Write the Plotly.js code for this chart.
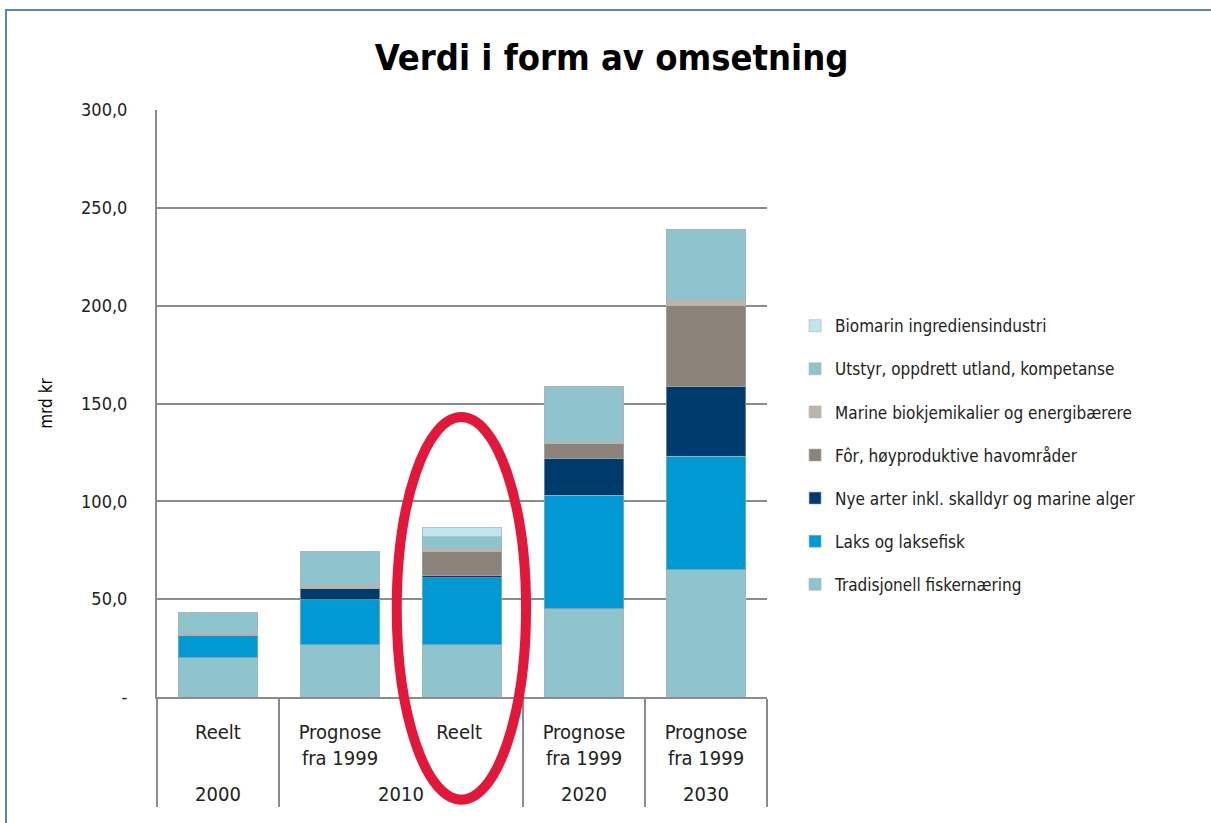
<!DOCTYPE html>
<html>
<head>
<meta charset="utf-8">
<script src="https://cdn.plot.ly/plotly-3.0.1.min.js"></script>
<style>
  html, body { margin: 0; padding: 0; overflow: hidden; background: #fff; }
  #chart { width: 1211px; height: 823px; position: absolute; left: 0; top: 0; }
  #frame { position: absolute; left: 5px; top: 9px; width: 1400px; height: 1000px;
           border-left: 2px solid #5b85b8; border-top: 2px solid #5b85b8; pointer-events: none; }
</style>
</head>
<body>
<div id="chart"></div>
<div id="frame"></div>
<script>
// ---- data ----
const years = ["2000", "2010", "2010", "2020", "2030"];
// the trailing space keeps the second "Reelt" distinct so Plotly keeps the given order
const kinds = ["Reelt", "Prognose<br>fra 1999", "Reelt ", "Prognose<br>fra 1999", "Prognose<br>fra 1999"];

const seriesNames = [
  "Tradisjonell fiskernæring",
  "Laks og laksefisk",
  "Nye arter inkl. skalldyr og marine alger",
  "Fôr, høyproduktive havområder",
  "Marine biokjemikalier og energibærere",
  "Utstyr, oppdrett utland, kompetanse",
  "Biomarin ingrediensindustri"
];
const tradisjonell = [20.0, 26.6, 26.6, 45.0, 65.0];
const laks         = [11.5, 23.1, 34.4, 58.0, 58.0];
const nyeArter     = [0.0, 5.5, 1.0, 19.0, 35.5];
const forHav       = [0.0, 0.5, 12.2, 7.5, 41.5];
const marineBio    = [1.0, 1.5, 1.7, 1.0, 3.0];
const utstyr       = [10.5, 17.0, 5.9, 28.0, 36.0];
const biomarin     = [0.0, 0.0, 4.9, 0.0, 0.0];

const yTickVals = [0, 50, 100, 150, 200, 250, 300];
const yTickText = ["-", "50,0", "100,0", "150,0", "200,0", "250,0", "300,0"];

const colors = ["#8fc3ce", "#0099d3", "#003b6d", "#8b8379", "#bdb5ac", "#8fc3ce", "#bfe6ef"];

const seriesValues = [tradisjonell, laks, nyeArter, forHav, marineBio, utstyr, biomarin];

const FONT = "'DejaVu Sans Condensed', 'Liberation Sans Narrow', Roboto, sans-serif";

// outer (year) labels get a blank first line so they sit lower, as in the reference
const outerLabels = years.map(y => "&nbsp;<br>" + y);

const traces = seriesValues.map((vals, i) => ({
  type: "bar",
  name: seriesNames[i],
  x: [outerLabels, kinds],
  y: vals,
  legendgroup: "g" + i,
  legendrank: 100 - i,
  marker: { color: colors[i], line: { color: "#a9b3b6", width: 0.6 } },
  hoverinfo: "name+y"
}));

const layout = {
  width: 1211,
  height: 823,
  paper_bgcolor: "#ffffff",
  plot_bgcolor: "#ffffff",
  margin: { l: 157, r: 444, t: 110, b: 126 },
  barmode: "stack",
  bargap: 0.35,
  font: { family: FONT, color: "#222", size: 16 },
  title: {
    text: "<b>Verdi i form av omsetning</b>",
    font: { family: FONT, size: 36, color: "#000" },
    x: 0.505, xanchor: "center",
    y: 0.93, yanchor: "middle"
  },
  xaxis: {
    type: "multicategory",
    showline: true, linecolor: "#8c8c8c", linewidth: 2,
    showdividers: true, dividercolor: "#8c8c8c", dividerwidth: 2,
    tickfont: { family: FONT, size: 20, color: "#222" },
    ticklabelstandoff: 16,
    ticks: "", showgrid: false
  },
  yaxis: {
    range: [0, 300],
    tickvals: yTickVals, ticktext: yTickText,
    showgrid: true, gridcolor: "#8c8c8c", gridwidth: 2,
    showline: true, linecolor: "#8c8c8c", linewidth: 2,
    zeroline: false,
    ticks: "", ticklen: 0,
    ticklabelstandoff: 24,
    tickfont: { family: FONT, size: 18, color: "#222" },
    title: { text: "mrd kr", font: { family: FONT, size: 17, color: "#000" }, standoff: 24 }
  },
  legend: {
    x: 1.046, xanchor: "left",
    y: 0.412, yanchor: "middle",
    traceorder: "grouped",
    tracegroupgap: 18,
    font: { family: FONT, size: 17, color: "#222" },
    bgcolor: "rgba(0,0,0,0)"
  },
  shapes: [{
    type: "circle", xref: "paper", yref: "paper",
    x0: 0.393, x1: 0.605, y0: -0.175, y1: 0.477,
    line: { color: "#e3173a", width: 10 },
    fillcolor: "rgba(0,0,0,0)",
    layer: "above"
  }],
  showlegend: true
};

Plotly.newPlot("chart", traces, layout, { displayModeBar: false, staticPlot: true });
</script>
</body>
</html>
